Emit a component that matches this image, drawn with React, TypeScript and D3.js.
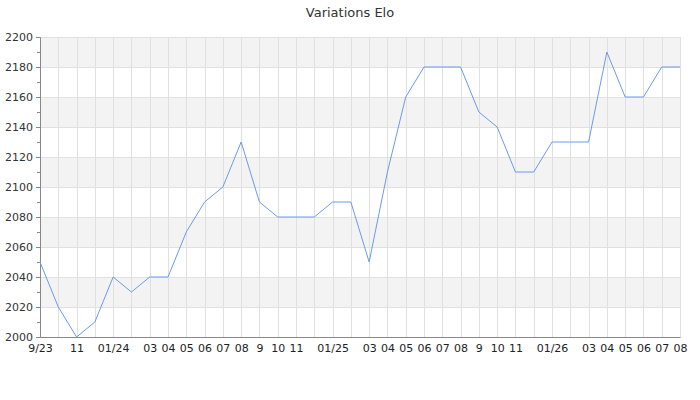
import { useRef, useEffect } from 'react';
import * as d3 from 'd3';

// one point per month, Sep 2023 -> Aug 2026
const months = [
  '2023-09', '2023-10', '2023-11', '2023-12',
  '2024-01', '2024-02', '2024-03', '2024-04', '2024-05', '2024-06',
  '2024-07', '2024-08', '2024-09', '2024-10', '2024-11', '2024-12',
  '2025-01', '2025-02', '2025-03', '2025-04', '2025-05', '2025-06',
  '2025-07', '2025-08', '2025-09', '2025-10', '2025-11', '2025-12',
  '2026-01', '2026-02', '2026-03', '2026-04', '2026-05', '2026-06',
  '2026-07', '2026-08',
];

const elo = [
  2050, 2020, 2000, 2010,
  2040, 2030, 2040, 2040, 2070, 2090,
  2100, 2130, 2090, 2080, 2080, 2080,
  2090, 2090, 2050, 2110, 2160, 2180,
  2180, 2180, 2150, 2140, 2110, 2110,
  2130, 2130, 2130, 2190, 2160, 2160,
  2180, 2180,
];

// empty string = label hidden (overlap)
const monthLabels = [
  '9/23', '', '11', '',
  '01/24', '', '03', '04', '05', '06',
  '07', '08', '9', '10', '11', '',
  '01/25', '', '03', '04', '05', '06',
  '07', '08', '9', '10', '11', '',
  '01/26', '', '03', '04', '05', '06',
  '07', '08',
];

const yTicks = [2000, 2020, 2040, 2060, 2080, 2100, 2120, 2140, 2160, 2180, 2200];

const title = 'Variations Elo';

const width = 700;
const height = 400;
const margin = { top: 37, right: 20, bottom: 63, left: 40 };
const font = '"DejaVu Sans", sans-serif';

const EloChart: React.FC = () => {
  const ref = useRef<SVGSVGElement>(null);

  useEffect(() => {
    const svg = d3.select(ref.current);
    svg.selectAll('*').remove();

    const x = d3.scaleLinear().domain([0, months.length - 1]).range([margin.left, width - margin.right]);
    const y = d3.scaleLinear().domain([2000, 2200]).range([height - margin.bottom, margin.top]);

    // alternating bands
    svg.append('g')
      .selectAll('rect')
      .data(yTicks.slice(0, -1).filter((v) => (v / 20) % 2 === 1))
      .join('rect')
      .attr('x', x(0))
      .attr('width', x(months.length - 1) - x(0))
      .attr('y', (d) => y(d + 20))
      .attr('height', (d) => y(d) - y(d + 20))
      .attr('fill', '#f3f3f3');

    // grid
    svg.append('g')
      .selectAll('line')
      .data(yTicks)
      .join('line')
      .attr('x1', x(0))
      .attr('x2', x(months.length - 1))
      .attr('y1', (d) => y(d) + 0.5)
      .attr('y2', (d) => y(d) + 0.5)
      .attr('stroke', '#e0e0e0');
    svg.append('g')
      .selectAll('line')
      .data(d3.range(1, months.length))
      .join('line')
      .attr('x1', (d) => Math.round(x(d)) + 0.5)
      .attr('x2', (d) => Math.round(x(d)) + 0.5)
      .attr('y1', y(2200))
      .attr('y2', y(2000))
      .attr('stroke', '#e0e0e0');

    // y axis with minor ticks
    const yAxis = d3.axisLeft(y).tickValues(yTicks).tickSize(4).tickPadding(3).tickFormat(d3.format('d'));
    const gy = svg.append('g').attr('transform', `translate(${x(0)},0)`).call(yAxis);
    gy.select('.domain').attr('stroke', '#888');
    gy.selectAll('.tick line').attr('stroke', '#888');
    gy.selectAll('text').attr('fill', '#333').attr('font-size', 11).attr('font-family', font);
    svg.append('g')
      .selectAll('line')
      .data(d3.range(2010, 2200, 20))
      .join('line')
      .attr('x1', x(0) - 3)
      .attr('x2', x(0))
      .attr('y1', (d) => y(d) + 0.5)
      .attr('y2', (d) => y(d) + 0.5)
      .attr('stroke', '#888');

    // x axis
    const xAxis = d3.axisBottom(x)
      .tickValues(d3.range(months.length))
      .tickSize(0)
      .tickPadding(7)
      .tickFormat((d) => monthLabels[d as number]);
    const gx = svg.append('g').attr('transform', `translate(0,${y(2000)})`).call(xAxis);
    gx.select('.domain').attr('stroke', '#888');
    gx.selectAll('text').attr('fill', '#222').attr('font-size', 11).attr('font-family', font);

    // line
    const line = d3.line<number>().x((_, i) => x(i)).y((d) => y(d));
    svg.append('path')
      .datum(elo)
      .attr('d', line)
      .attr('fill', 'none')
      .attr('stroke', '#6a9af0')
      .attr('stroke-width', 1);

    svg.append('text')
      .attr('x', width / 2)
      .attr('y', 17)
      .attr('text-anchor', 'middle')
      .attr('font-size', 13)
      .attr('font-family', font)
      .attr('fill', '#333')
      .text(title);

    return () => {
      svg.selectAll('*').remove();
    };
  }, []);

  return (
    <svg
      ref={ref}
      width={width}
      height={height}
      style={{ position: 'absolute', left: 0, top: 0, background: '#fff' }}
    />
  );
};

export default function App() {
  return <EloChart />;
}
